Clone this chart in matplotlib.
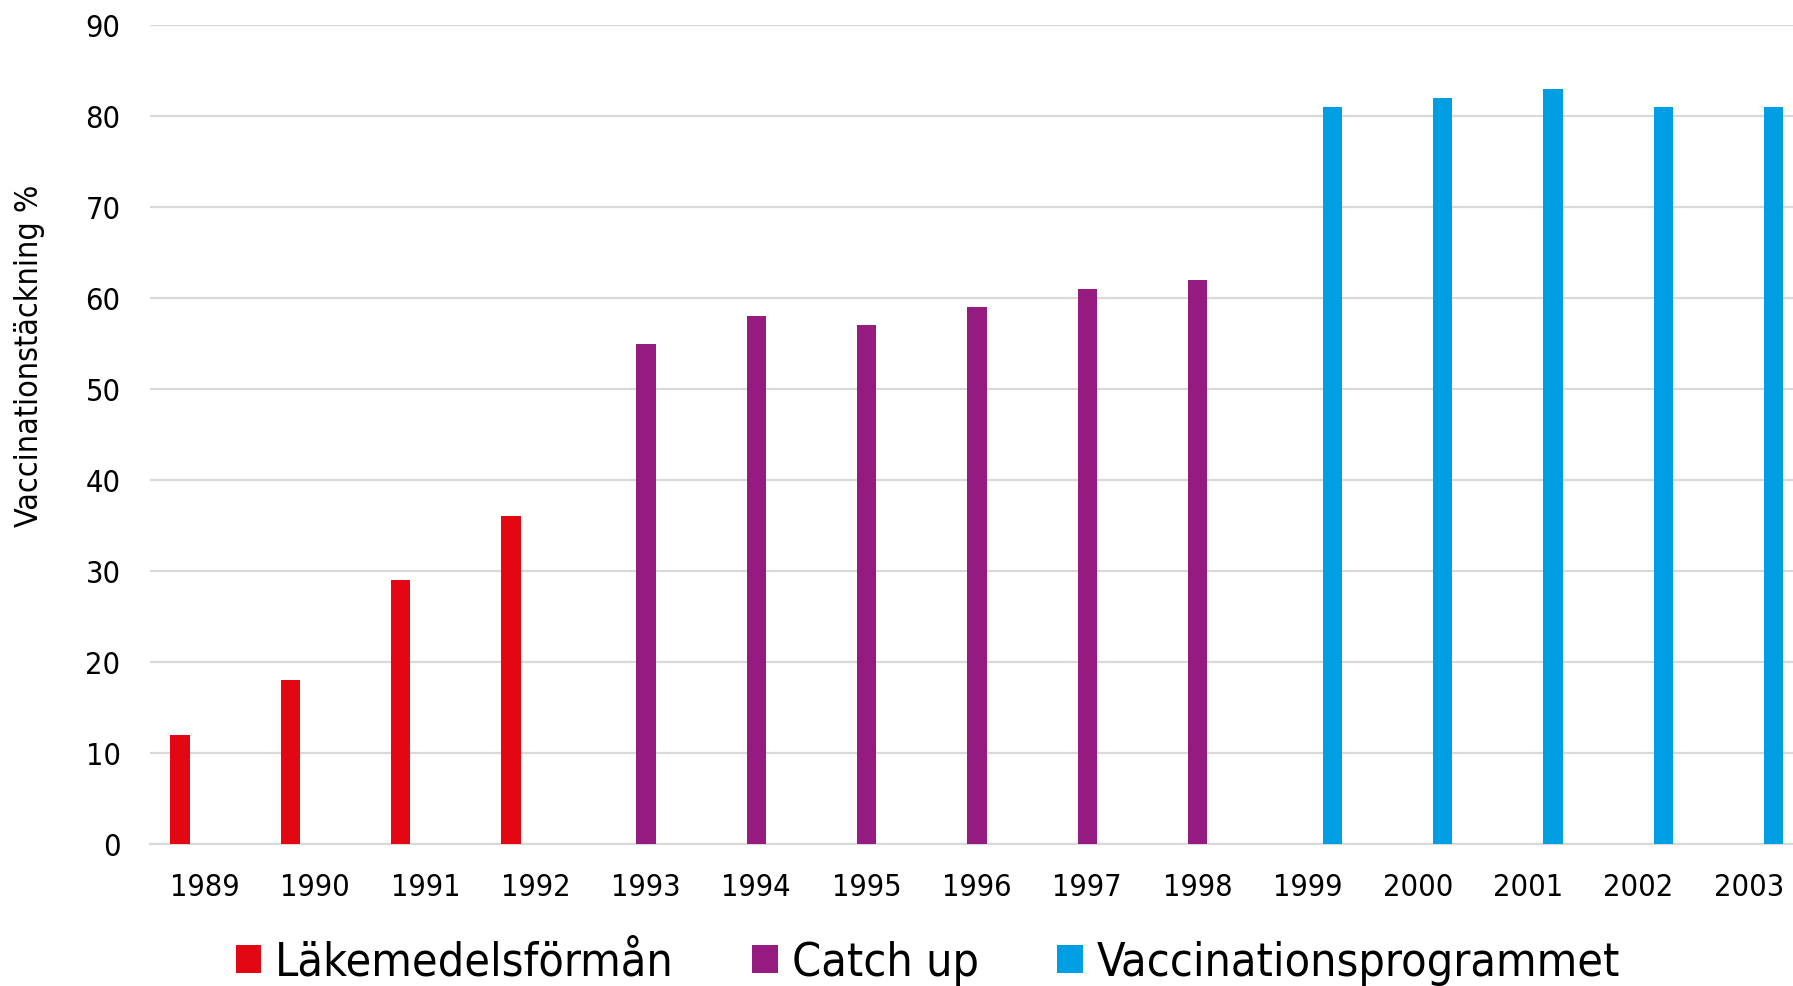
import matplotlib
matplotlib.use('Agg')
import matplotlib.pyplot as plt
import numpy as np

years = ['1989', '1990', '1991', '1992', '1993', '1994', '1995', '1996',
         '1997', '1998', '1999', '2000', '2001', '2002', '2003']

# one value per year, 0 where the series has no bar
lakemedel = [12, 18, 29, 36, 0, 0, 0, 0, 0, 0, 0, 0, 0, 0, 0]
catch_up = [0, 0, 0, 0, 55, 58, 57, 59, 61, 62, 0, 0, 0, 0, 0]
vacc_prog = [0, 0, 0, 0, 0, 0, 0, 0, 0, 0, 81, 82, 83, 81, 81]

series_names = ['Läkemedelsförmån', 'Catch up', 'Vaccinationsprogrammet']
colors = ['#e30613', '#951b81', '#009fe3']

plt.rcParams['font.family'] = ['DejaVu Sans']
plt.rcParams['font.stretch'] = 'condensed'

fig = plt.figure(figsize=(17.93, 9.86), dpi=100)
ax = fig.add_axes([0.0835, 0.144, 0.9165, 0.8305])

x = np.arange(len(years))
offset = 0.225
width = 0.175
for i, (vals, name, col) in enumerate(zip([lakemedel, catch_up, vacc_prog], series_names, colors)):
    ax.bar(x + (i - 1) * offset, vals, width, color=col, label=name, zorder=3)

ax.set_ylim(0, 90)
ax.set_yticks(range(0, 91, 10))
ax.set_xlim(-0.5, 14.4)
ax.set_xticks(x)
ax.set_xticklabels(years)
ax.grid(axis='y', color='#d9d9d9', linewidth=1.6, zorder=0)
for s in ['top', 'right', 'left']:
    ax.spines[s].set_visible(False)
ax.spines['bottom'].set_color('#d9d9d9')
ax.spines['bottom'].set_linewidth(1.6)
ax.tick_params(axis='both', length=0, labelsize=22)
ax.tick_params(axis='y', pad=21)
ax.tick_params(axis='x', pad=21)

fig.text(0.0165, 0.639, 'Vaccinationstäckning %', rotation=90, fontsize=23,
         ha='center', va='center')

fig.legend(loc='lower center', bbox_to_anchor=(0.5175, -0.042), ncol=3, frameon=False,
           fontsize=33.5, handlelength=0.55, handleheight=0.55, handletextpad=0.3,
           columnspacing=1.68)

fig.savefig('out.png', dpi=100)
